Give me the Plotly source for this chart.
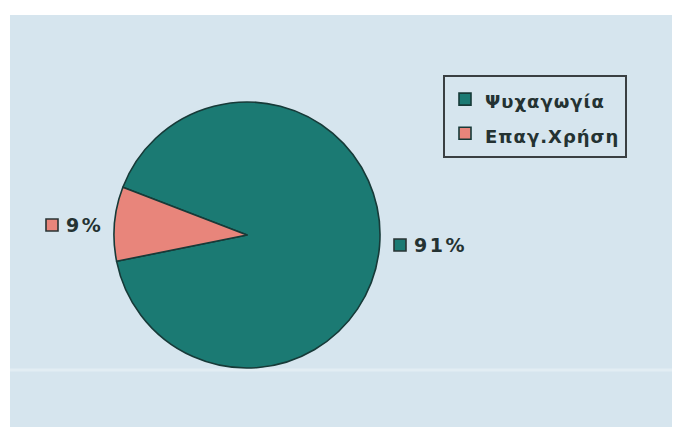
import plotly.graph_objects as go

# Usage shares
categories = ["Ψυχαγωγία", "Επαγ.Χρήση"]
values = [91, 9]
colors = ["#1b7a73", "#e8857b"]

W, H = 682, 427
BG = "#d6e5ee"
TXT = "#243232"
FONT = "DejaVu Sans"


def px(x):
    return x / W


def py(y):
    return 1 - y / H


legend_labels = [
    f"<span style='font-size:18px;letter-spacing:1px'>{c}</span>" for c in categories
]

fig = go.Figure(
    go.Pie(
        labels=legend_labels,
        values=values,
        marker=dict(colors=colors, line=dict(color="#173a38", width=1.6)),
        sort=False,
        direction="clockwise",
        rotation=-69,
        textinfo="none",
        hoverinfo="label+percent",
        domain=dict(x=[px(114), px(380)], y=[py(368), py(102)]),
    )
)

shapes = [
    # light panel behind the chart
    dict(type="rect", xref="paper", yref="paper", x0=px(10), x1=px(672), y0=0, y1=py(15),
         fillcolor=BG, line=dict(width=0), layer="below"),
    dict(type="line", xref="paper", yref="paper", x0=px(10), x1=px(672), y0=py(370), y1=py(370),
         line=dict(color="#e2edf3", width=3), layer="below"),
]

# percentage labels beside the slices, each with a small colour key
label_pos = [(394, 245), (46, 225)]
total = sum(values)
annotations = []
for (kx, ky), v, col in zip(label_pos, values, colors):
    shapes.append(dict(type="rect", xref="paper", yref="paper",
                       x0=px(kx), x1=px(kx + 12), y0=py(ky + 6), y1=py(ky - 6),
                       fillcolor=col, line=dict(color="#2a3434", width=1.6)))
    annotations.append(dict(
        xref="paper", yref="paper", x=px(kx + 18), y=py(ky), xanchor="left", yanchor="middle",
        text=f"<span style='letter-spacing:2.5px'>{round(100 * v / total)}%</span>",
        showarrow=False, font=dict(family=FONT, size=19, color=TXT, weight="bold"),
    ))

fig.update_layout(
    width=W, height=H,
    margin=dict(l=0, r=0, t=0, b=0),
    paper_bgcolor="white",
    plot_bgcolor=BG,
    showlegend=True,
    legend=dict(
        x=px(443), y=py(75), xanchor="left", yanchor="top",
        bgcolor="rgba(0,0,0,0)", bordercolor="#3a3f42", borderwidth=2,
        font=dict(family=FONT, size=24, color=TXT, weight="bold"),
        itemwidth=30,
    ),
    shapes=shapes,
    annotations=annotations,
)

fig.write_html("out.html")
